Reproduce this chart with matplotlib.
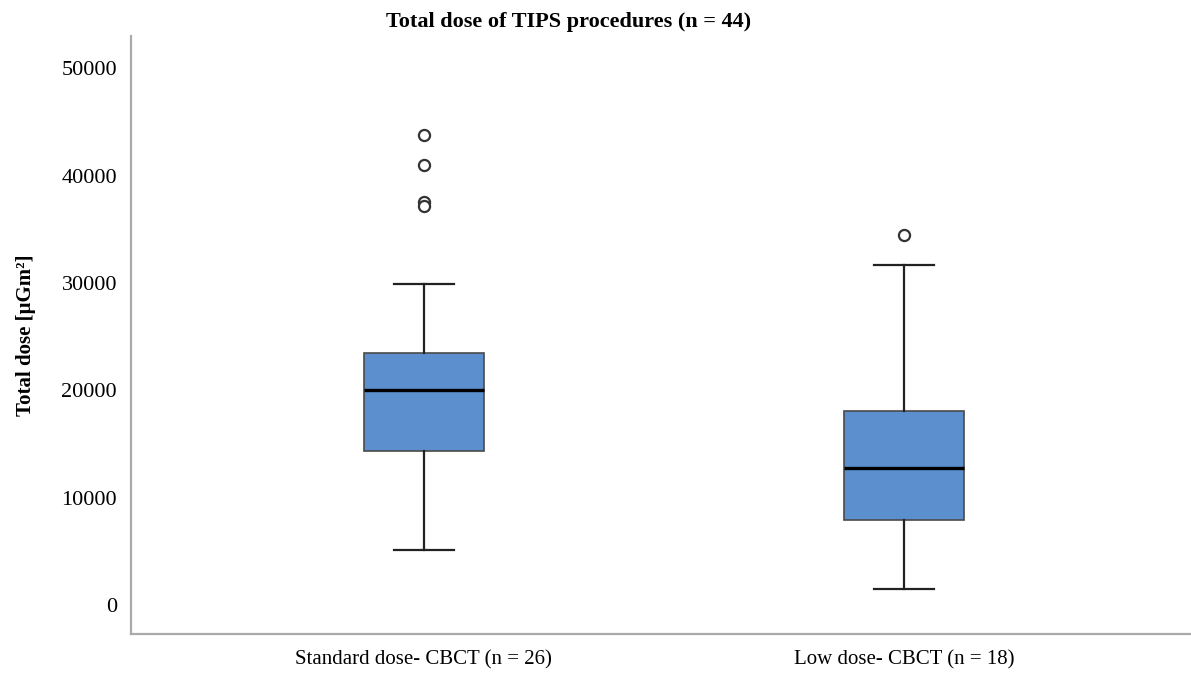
import matplotlib
matplotlib.use("Agg")
import matplotlib.pyplot as plt

# box statistics (µGm²)
groups = ["Standard dose- CBCT (n = 26)", "Low dose- CBCT (n = 18)"]
q1 = [14350, 7900]
median = [20050, 12750]
q3 = [23450, 18050]
whis_low = [5100, 1500]
whis_high = [29950, 31650]
outliers = [[43800, 41000, 37500, 37150], [34500]]
yticks = [0, 10000, 20000, 30000, 40000, 50000]

plt.rcParams['font.family'] = ['Liberation Serif', 'DejaVu Serif']

fig = plt.figure(figsize=(11.91, 6.80), dpi=100)
ax = fig.add_axes([0.110, 0.0676, 0.890, 0.879])

stats = []
for i in range(len(groups)):
    stats.append({"label": groups[i], "q1": q1[i], "med": median[i], "q3": q3[i],
                  "whislo": whis_low[i], "whishi": whis_high[i], "fliers": outliers[i]})

ax.bxp(stats, positions=[1, 2], widths=0.25, patch_artist=True,
       boxprops=dict(facecolor="#5b8fcd", edgecolor="#4a4a4a", linewidth=1.2),
       medianprops=dict(color="black", linewidth=2.4),
       whiskerprops=dict(color="#222222", linewidth=1.6),
       capprops=dict(color="#222222", linewidth=1.6),
       capwidths=0.125,
       flierprops=dict(marker="o", markersize=8, markerfacecolor="white",
                       markeredgecolor="#333333", markeredgewidth=1.6))

ax.set_xlim(0.39, 2.598)
ax.set_ylim(-2700, 52980)
ax.set_yticks(yticks)
ax.set_yticklabels([str(v) for v in yticks])
ax.tick_params(axis="both", length=0)
ax.tick_params(axis="x", labelsize=15, pad=12)
ax.tick_params(axis="y", labelsize=16, pad=10)

for s in ["top", "right"]:
    ax.spines[s].set_visible(False)
for s in ["left", "bottom"]:
    ax.spines[s].set_color("#aaaaaa")
    ax.spines[s].set_linewidth(1.6)

ax.set_ylabel("Total dose [\u03bcGm\u00b2]", fontsize=15, fontweight="bold", labelpad=18)
fig.text(0.477, 0.967, "Total dose of TIPS procedures (n = 44)", ha="center", va="center",
         fontsize=16, fontweight="bold")

fig.savefig("out.png", dpi=100)
